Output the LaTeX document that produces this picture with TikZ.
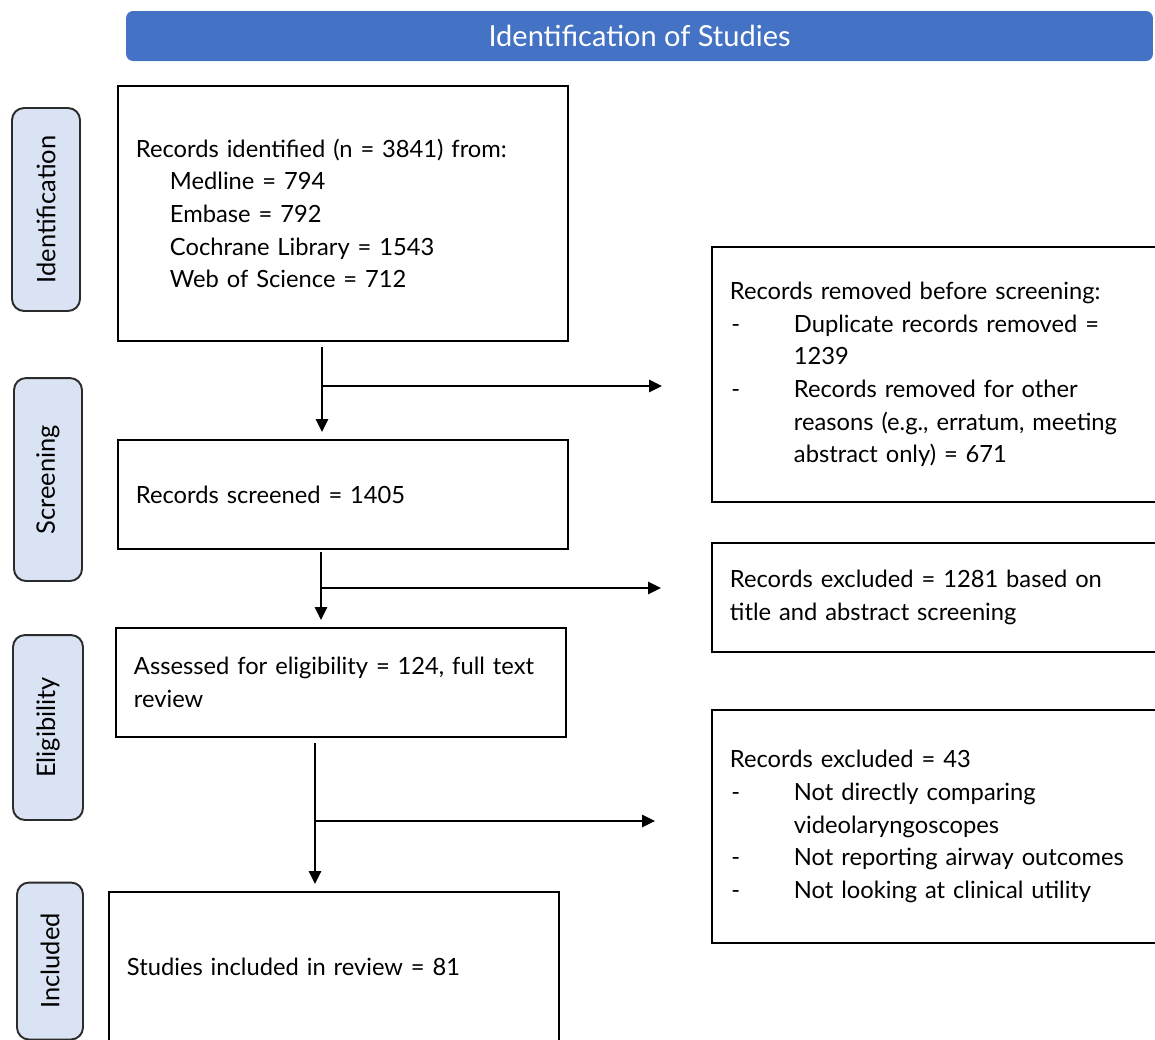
\documentclass[tikz,border=0pt]{standalone}
\usepackage{fontspec}
\setmainfont{Lato}
\usepackage{tikz}
\usetikzlibrary{arrows.meta}

\definecolor{headblue}{HTML}{4472C4}
\definecolor{sidefill}{HTML}{DAE3F3}
\definecolor{sideline}{HTML}{2B2B2B}

\newcommand{\dashitem}{\makebox[1.28cm][l]{\hspace{0.03cm}-}}
\newcommand{\subindent}{\hspace*{1.28cm}}

\begin{document}
\begin{tikzpicture}[x=0.02cm,y=-0.02cm,
every node/.style={font=\fontsize{13.5}{18.6}\selectfont},
box/.style={draw,rectangle,line width=1.1pt,anchor=north west,
    inner xsep=0.36cm,inner ysep=0pt,text width=8.28cm,align=left},
side/.style={draw=sideline,fill=sidefill,rectangle,rounded corners=0.24cm,
    line width=1.1pt,rotate=90,inner sep=0pt,font=\fontsize{14.5}{18}\selectfont},
arr/.style={-{Triangle[length=0.26cm,width=0.25cm]},line width=0.8pt}]
\clip (0,0) rectangle (1155,1039);

% header bar
\node (head) [fill=headblue,rounded corners=0.14cm,minimum width=20.54cm,
    minimum height=1cm,text=white,font=\fontsize{16.5}{20}\selectfont]
    at (639.5,36) {Identification of Studies};

% phase labels
\node (lident) [side,minimum width=4.06cm,minimum height=1.36cm] at (46,209.5) {Identification};
\node (lscreen) [side,minimum width=4.06cm,minimum height=1.36cm] at (48,479.5) {Screening};
\node (lelig) [side,minimum width=3.7cm,minimum height=1.4cm] at (48,727.5) {Eligibility};
\node (lincl) [side,minimum width=3.14cm,minimum height=1.32cm] at (50,961) {Included};

% main column
\node (ident) [box,minimum height=5.1cm] at (117,85) {Records identified (n = 3841) from:\\
    \hspace*{0.68cm}Medline = 794\\
    \hspace*{0.68cm}Embase = 792\\
    \hspace*{0.68cm}Cochrane Library = 1543\\
    \hspace*{0.68cm}Web of Science = 712};
\node (screen) [box,minimum height=2.18cm] at (117,439) {Records screened = 1405};
\node (elig) [box,minimum height=2.18cm] at (115,627) {\mbox{Assessed for eligibility = 124, full text}\\ review};
\node (incl) [box,minimum height=3cm] at (108,891) {Studies included in review = 81};

% right column
\node (removed) [box,minimum height=5.1cm] at (711,246) {Records removed before screening:\\
    \dashitem Duplicate records removed =\\
    \subindent 1239\\
    \dashitem Records removed for other\\
    \subindent reasons (e.g., erratum, meeting\\
    \subindent abstract only) = 671};
\node (exclone) [box,minimum height=2.18cm] at (711,542) {Records excluded = 1281 based on\\
    title and abstract screening};
\node (excltwo) [box,minimum height=4.66cm] at (711,709) {Records excluded = 43\\
    \dashitem Not directly comparing\\
    \subindent videolaryngoscopes\\
    \dashitem Not reporting airway outcomes\\
    \dashitem Not looking at clinical utility};

% connectors
\coordinate (from1) at (322,347);
\coordinate (to1) at (322,432);
\coordinate (split1) at (322,386);
\coordinate (side1) at (662,386);
\coordinate (from2) at (321,552);
\coordinate (to2) at (321,620);
\coordinate (split2) at (321,588);
\coordinate (side2) at (661,588);
\coordinate (from3) at (315,743);
\coordinate (to3) at (315,884);
\coordinate (split3) at (315,821);
\coordinate (side3) at (655,821);

\draw [arr] (from1) -- (to1);
\draw [arr] (split1) -- (side1);
\draw [arr] (from2) -- (to2);
\draw [arr] (split2) -- (side2);
\draw [arr] (from3) -- (to3);
\draw [arr] (split3) -- (side3);
\end{tikzpicture}
\end{document}
